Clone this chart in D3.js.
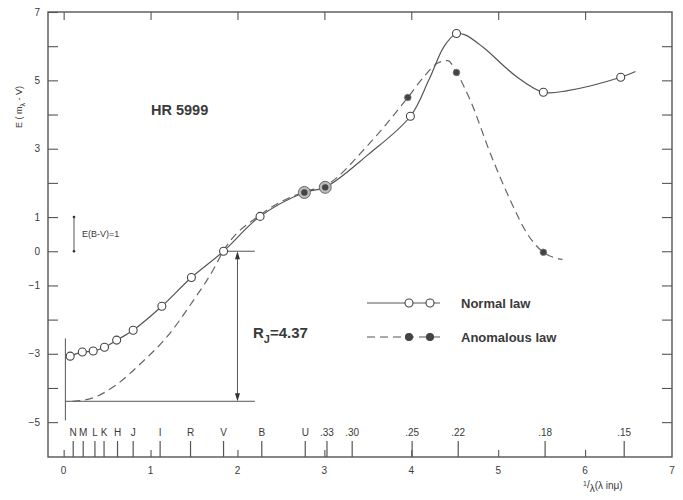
<!DOCTYPE html>
<html><head><meta charset="utf-8">
<script src="https://cdn.jsdelivr.net/npm/d3@7"></script>
<style>body{margin:0;background:#fff}text{font-family:"Liberation Sans",Arial,sans-serif;fill:#3a3a3a}</style>
</head><body><svg id="c" width="683" height="500"></svg>
<script>
// Data
const normalPoints = [[0.075,-3.07],[0.215,-2.95],[0.34,-2.92],[0.47,-2.81],[0.61,-2.6],[0.80,-2.31],[1.13,-1.61],[1.47,-0.77],[1.84,0.0],[2.26,1.02],[3.99,3.95],[4.52,6.37],[5.52,4.65],[6.41,5.09]];
const anomalousPoints = [[3.96,4.5],[4.52,5.23],[5.52,-0.03]];
const sharedPoints = [[2.77,1.72],[3.01,1.87]];
const normalCurve = [[0.06,-3.09],[0.075,-3.07],[0.215,-2.95],[0.34,-2.92],[0.47,-2.81],[0.61,-2.6],[0.80,-2.31],[1.13,-1.61],[1.47,-0.77],[1.84,0.0],[2.26,1.02],[2.77,1.72],[3.01,1.87],[3.5,2.82],[3.99,3.95],[4.2,5.0],[4.38,6.0],[4.52,6.37],[4.62,6.33],[4.83,5.96],[5.22,5.09],[5.52,4.65],[5.8,4.7],[6.41,5.09],[6.58,5.26]];
const anomalousCurve = [[0.1,-4.39],[0.3,-4.32],[0.61,-3.9],[0.88,-3.3],[1.19,-2.5],[1.49,-1.45],[1.72,-0.55],[1.84,0.02],[2.26,1.06],[2.77,1.74],[3.01,1.92],[3.5,3.1],[3.96,4.5],[4.15,5.12],[4.3,5.5],[4.42,5.58],[4.52,5.23],[4.68,4.41],[4.91,2.86],[5.14,1.49],[5.33,0.53],[5.52,-0.03],[5.74,-0.24]];
const xTicks = [0,1,2,3,4,5,6,7];
const yTicks = [7,6,5,4,3,2,1,0,-1,-2,-3,-4,-5];
const yLabels = [7,5,3,1,0,-1,-3,-5];
const bands = [["N",0.11],["M",0.225],["L",0.36],["K",0.465],["H",0.62],["J",0.80],["I",1.11],["R",1.46],["V",1.84],["B",2.28],["U",2.78],[".33",3.03],[".30",3.32],[".25",4.01],[".22",4.54],[".18",5.54],[".15",6.45]];
const legendItems = ["Normal law","Anomalous law"];
const RJ = 4.37, vLevel = 0, jLevel = -4.39;

const svg = d3.select("#c");
const x = d3.scaleLinear().domain([-0.18,7]).range([48,672]);
const y = d3.scaleLinear().domain([-6.02,7]).range([457,12]);
const ink = "#555";

svg.append("rect").attr("x",48).attr("y",12).attr("width",624).attr("height",445).attr("fill","none").attr("stroke",ink).attr("stroke-width",1.4);

// left axis
const la = svg.append("g").attr("transform","translate(48,0)").call(d3.axisRight(y).tickValues(yTicks).tickSize(10).tickFormat(""));
la.select(".domain").remove();
la.selectAll("line").attr("stroke",ink).attr("stroke-width",1.1);
svg.selectAll(".yl").data(yLabels).join("text").attr("x",40).attr("y",d=>y(d)+3.5).attr("text-anchor","end").attr("font-size",10).text(d=>d<0?"\u2212"+(-d):d);
// right axis
const ra = svg.append("g").attr("transform","translate(672,0)").call(d3.axisLeft(y).tickValues(yTicks.filter(d=>d<7)).tickSize(10).tickFormat(""));
ra.select(".domain").remove();
ra.selectAll("line").attr("stroke",ink).attr("stroke-width",1.1);
// top axis
const ta = svg.append("g").attr("transform","translate(0,12)").call(d3.axisBottom(x).tickValues([0,1,2,3,4,5,6]).tickSize(8).tickFormat(""));
ta.select(".domain").remove();
ta.selectAll("line").attr("stroke",ink).attr("stroke-width",1.1);
// bottom axis
const ba = svg.append("g").attr("transform","translate(0,457)").call(d3.axisTop(x).tickValues([0,1,2,3,4,5,6]).tickSize(7).tickFormat(""));
ba.select(".domain").remove();
ba.selectAll("line").attr("stroke",ink).attr("stroke-width",1.1);
svg.selectAll(".xl").data(xTicks).join("text").attr("x",d=>x(d)).attr("y",474).attr("text-anchor","middle").attr("font-size",10).text(d=>d);
// band ticks
svg.selectAll(".bt").data(bands).join("line").attr("x1",d=>x(d[1])).attr("x2",d=>x(d[1])).attr("y1",457).attr("y2",441).attr("stroke",ink).attr("stroke-width",1.2);
svg.selectAll(".bl").data(bands).join("text").attr("x",d=>x(d[1])).attr("y",436).attr("text-anchor","middle").attr("font-size",10).text(d=>d[0]);

// axis titles
const xt = svg.append("text").attr("x",583).attr("y",490).attr("font-size",10);
xt.append("tspan").attr("font-size",7).attr("dy",-4).text("1");
xt.append("tspan").attr("dy",2).text("/");
xt.append("tspan").attr("dy",4).text("\u03bb");
xt.append("tspan").attr("dy",-3).text("(\u03bb  in\u03bc)");
const yt = svg.append("text").attr("transform","translate(22,128) rotate(-90)").attr("font-size",9);
yt.append("tspan").text("E ( m");
yt.append("tspan").attr("dy",3).attr("font-size",7).text("\u03bb");
yt.append("tspan").attr("dy",-3).text(" - V)");

// annotations
svg.append("text").attr("x",151).attr("y",115).attr("font-size",14.5).attr("font-weight","bold").text("HR 5999");
svg.append("line").attr("x1",74).attr("x2",74).attr("y1",y(1)).attr("y2",y(0)).attr("stroke",ink);
svg.append("circle").attr("cx",74).attr("cy",y(1)).attr("r",1.3).attr("fill","#333");
svg.append("circle").attr("cx",74).attr("cy",y(0)).attr("r",1.3).attr("fill","#333");
svg.append("text").attr("x",82).attr("y",237).attr("font-size",9).text("E(B-V)=1");

// R_J construction
svg.append("line").attr("x1",x(0.02)).attr("x2",x(0.02)).attr("y1",y(-2.55)).attr("y2",y(-4.95)).attr("stroke",ink);
svg.append("line").attr("x1",x(0.02)).attr("x2",x(2.2)).attr("y1",y(jLevel)).attr("y2",y(jLevel)).attr("stroke",ink);
svg.append("line").attr("x1",x(1.84)).attr("x2",x(2.2)).attr("y1",y(vLevel)).attr("y2",y(vLevel)).attr("stroke",ink);
const ax = x(2.0);
svg.append("line").attr("x1",ax).attr("x2",ax).attr("y1",y(vLevel)+6).attr("y2",y(jLevel)-6).attr("stroke",ink);
svg.append("path").attr("d",`M${ax},${y(vLevel)}l-2.5,8h5z`).attr("fill","#333");
svg.append("path").attr("d",`M${ax},${y(jLevel)}l-2.5,-8h5z`).attr("fill","#333");
const rt = svg.append("text").attr("x",253).attr("y",338).attr("font-size",15).attr("font-weight","bold");
rt.append("tspan").text("R");
rt.append("tspan").attr("dy",5).attr("font-size",11).text("J");
rt.append("tspan").attr("dy",-5).text("=" + RJ);

// curves
const lineA = d3.line().x(d=>x(d[0])).y(d=>y(d[1])).curve(d3.curveMonotoneX);
const lineN = d3.line().x(d=>x(d[0])).y(d=>y(d[1])).curve(d3.curveCatmullRom.alpha(0.5));
svg.append("path").attr("d",lineA(anomalousCurve)).attr("fill","none").attr("stroke","#666").attr("stroke-width",1.2).attr("stroke-dasharray","8,5");
svg.append("path").attr("d",lineN(normalCurve)).attr("fill","none").attr("stroke","#555").attr("stroke-width",1.2);

// points
svg.selectAll(".np").data(normalPoints).join("circle").attr("cx",d=>x(d[0])).attr("cy",d=>y(d[1])).attr("r",4).attr("fill","#fff").attr("stroke","#444").attr("stroke-width",1.1);
svg.selectAll(".ap").data(anomalousPoints).join("circle").attr("cx",d=>x(d[0])).attr("cy",d=>y(d[1])).attr("r",3.3).attr("fill","#444").attr("stroke","#777").attr("stroke-width",0.8);
svg.selectAll(".sp").data(sharedPoints).join("circle").attr("cx",d=>x(d[0])).attr("cy",d=>y(d[1])).attr("r",6).attr("fill","#bbb").attr("stroke","#666").attr("stroke-width",1);
svg.selectAll(".sp2").data(sharedPoints).join("circle").attr("cx",d=>x(d[0])).attr("cy",d=>y(d[1])).attr("r",3.2).attr("fill","#444");

// legend
const lg = svg.append("g");
legendItems.forEach((t,i)=>{
  const ly = 303 + i*34;
  lg.append("line").attr("x1",367).attr("x2",440).attr("y1",ly).attr("y2",ly).attr("stroke","#555").attr("stroke-width",1.2).attr("stroke-dasharray",i?"8,5":null);
  [409,430].forEach(cx=>{
    lg.append("circle").attr("cx",cx).attr("cy",ly).attr("r",i?3.5:4).attr("fill",i?"#444":"#fff").attr("stroke","#444").attr("stroke-width",1.1);
  });
  lg.append("text").attr("x",461).attr("y",ly+4.5).attr("font-size",13).attr("font-weight","bold").text(t);
});
</script></body></html>
